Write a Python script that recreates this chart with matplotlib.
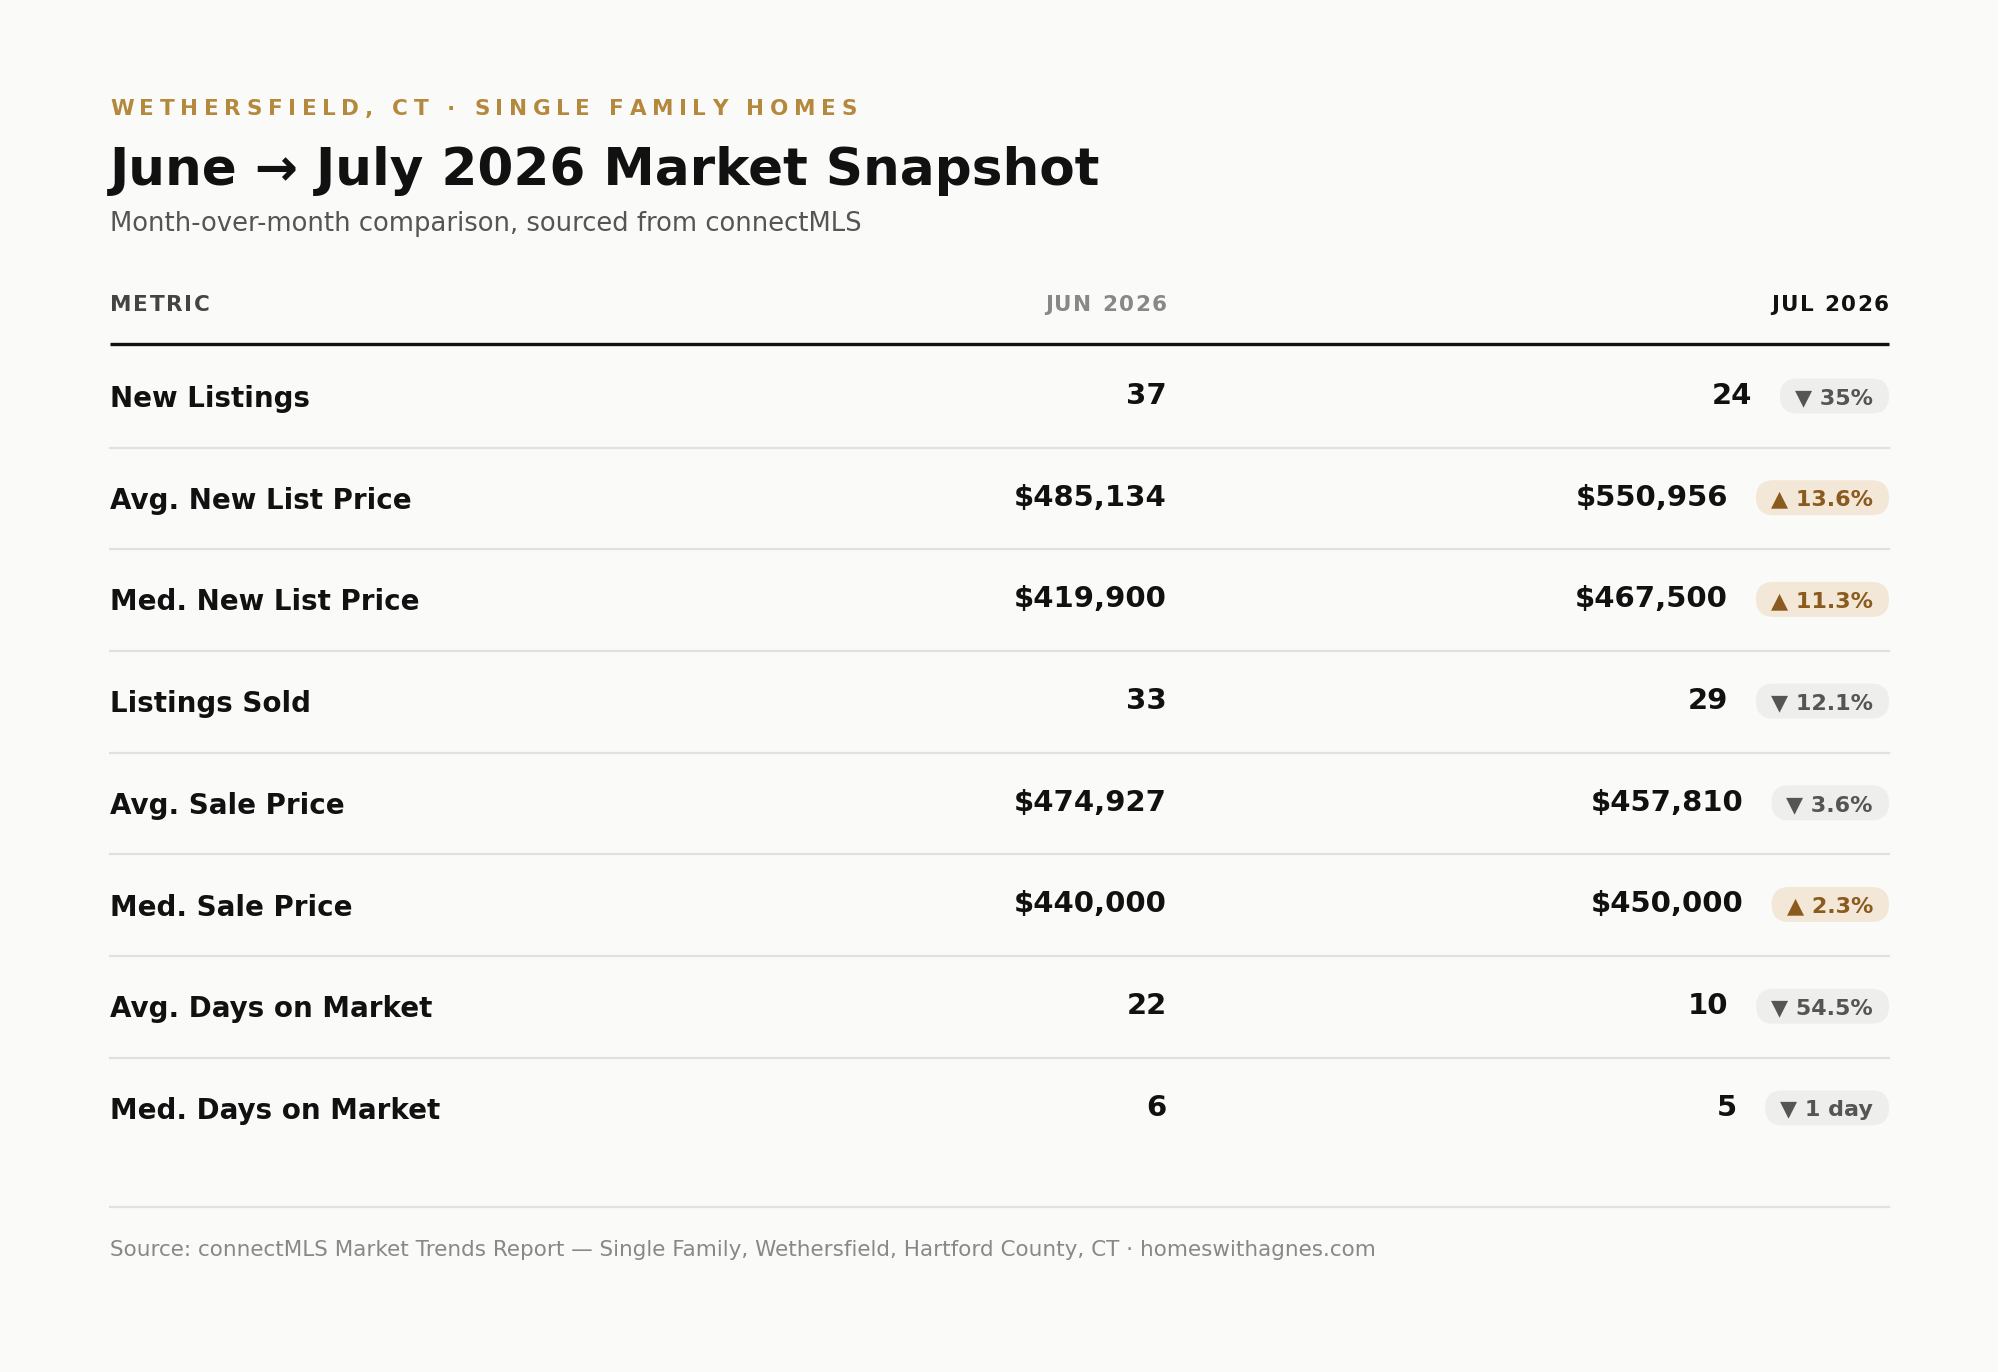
import matplotlib
matplotlib.use('Agg')
import matplotlib.pyplot as plt
from matplotlib.patches import FancyBboxPatch

metrics = ['New Listings', 'Avg. New List Price', 'Med. New List Price', 'Listings Sold',
           'Avg. Sale Price', 'Med. Sale Price', 'Avg. Days on Market', 'Med. Days on Market']
jun_values = [37, 485134, 419900, 33, 474927, 440000, 22, 6]
jul_values = [24, 550956, 467500, 29, 457810, 450000, 10, 5]
is_price = [False, True, True, False, True, True, False, False]
changes = ['35%', '13.6%', '11.3%', '12.1%', '3.6%', '2.3%', '54.5%', '1 day']
direction = ['down', 'up', 'up', 'down', 'down', 'up', 'down', 'down']

eyebrow = 'WETHERSFIELD, CT · SINGLE FAMILY HOMES'
title = 'June \u2192 July 2026 Market Snapshot'
subtitle = 'Month-over-month comparison, sourced from connectMLS'
headers = ['METRIC', 'JUN 2026', 'JUL 2026']
footer = ('Source: connectMLS Market Trends Report \u2014 Single Family, Wethersfield, '
          'Hartford County, CT \u00b7 homeswithagnes.com')

BG = '#fafaf8'
GOLD = '#b5893d'
W, H = 1999, 1372

fig = plt.figure(figsize=(W / 100, H / 100), dpi=100, facecolor=BG)
ax = fig.add_axes([0, 0, 1, 1])
ax.set_xlim(0, W)
ax.set_ylim(H, 0)
ax.axis('off')
renderer = fig.canvas.get_renderer()

left, right = 110, 1889
jun_right = 1167


def text_width(t):
    return t.get_window_extent(renderer).width


def measure(s, **kw):
    t = ax.text(0, 0, s, **kw)
    w = text_width(t)
    t.remove()
    return w


def spaced_text(x, y, s, spacing, ha='left', **kw):
    # draw text letter by letter to get css-like letter spacing
    space_w = measure('a a', **kw) - measure('aa', **kw)
    widths = [space_w if ch == ' ' else measure(ch, **kw) for ch in s]
    total = sum(widths) + spacing * (len(s) - 1)
    cx = x if ha == 'left' else x - total
    for ch, w in zip(s, widths):
        ax.text(cx, y, ch, va='baseline', ha='left', **kw)
        cx += w + spacing


def fmt(v, price):
    return f'${v:,}' if price else str(v)


# header block
spaced_text(left, 115, eyebrow, 5.65, fontsize=15.5, fontweight='bold', color=GOLD)
ax.text(left, 185, title, fontsize=37.2, fontweight='bold', color='#111111', va='baseline')
ax.text(left, 231, subtitle, fontsize=18.6, color='#555555', va='baseline')

# column headers
spaced_text(left, 311, headers[0], 1.6, fontsize=15.5, fontweight='bold', color='#444444')
spaced_text(jun_right, 311, headers[1], 1.6, ha='right', fontsize=15.5, fontweight='bold', color='#888888')
spaced_text(right, 311, headers[2], 1.6, ha='right', fontsize=15.5, fontweight='bold', color='#111111')
ax.plot([left, right], [344, 344], color='#111111', lw=2.4, solid_capstyle='butt')

row0, step = 407, 101.7
for i, name in enumerate(metrics):
    yb = row0 + i * step
    ax.text(left, yb, name, fontsize=20, fontweight='bold', color='#111111', va='baseline')
    ax.text(jun_right, yb - 3, fmt(jun_values[i], is_price[i]), fontsize=21,
            fontweight='bold', color='#111111', va='baseline', ha='right')

    up = direction[i] == 'up'
    arrow = '\u25b2' if up else '\u25bc'
    fg = '#8a5a1e' if up else '#555555'
    bg = '#f3e8d7' if up else '#eeefed'
    bt = ax.text(right - 16, yb - 3, f'{arrow} {changes[i]}', fontsize=16, fontweight='bold',
                 color=fg, va='baseline', ha='right', zorder=3)
    bw = text_width(bt) + 31
    ph = 35
    pc = yb - 11
    pill = FancyBboxPatch((right - bw, pc - ph / 2), bw, ph,
                          boxstyle=f'round,pad=0,rounding_size={ph / 2}',
                          fc=bg, ec='none', zorder=2)
    ax.add_patch(pill)
    ax.text(right - bw - 28, yb - 3, fmt(jul_values[i], is_price[i]), fontsize=21,
            fontweight='bold', color='#111111', va='baseline', ha='right')

    if i < len(metrics) - 1:
        ys = 447.5 + i * step
        ax.plot([left, right], [ys, ys], color='#e2e2dd', lw=1.6)

ax.plot([left, right], [1207, 1207], color='#e2e2dd', lw=1.6)
ax.text(left, 1256, footer, fontsize=15.5, color='#888888', va='baseline')

fig.savefig('out.png', dpi=100, facecolor=BG)
